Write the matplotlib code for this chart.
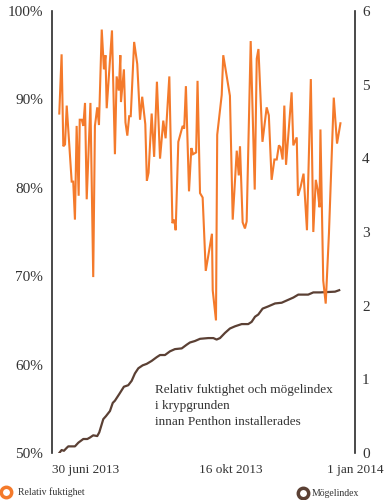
import matplotlib
matplotlib.use("Agg")
import matplotlib.pyplot as plt
from matplotlib.lines import Line2D

# days after 30 juni 2013, relative humidity (%)
rf_day = [0.0, 1.5, 2.6, 3.7, 4.8, 8.0, 9.0, 10.1, 11.2, 12.5, 13.2, 14.5, 15.5, 16.6,
          17.7, 20.1, 21.9, 23.0, 24.5, 25.6, 27.4, 28.8, 29.8, 30.6, 34.0, 35.9, 37.0,
          38.4, 39.4, 39.8, 41.7, 42.7, 43.9, 45.1, 46.1, 48.3, 50.3, 52.1, 53.5, 55.5,
          56.5, 57.6, 59.6, 61.2, 63.0, 65.0, 67.1, 68.6, 71.0, 73.0, 74.2, 75.1, 76.8,
          79.6, 80.6, 81.7, 83.7, 85.2, 86.3, 88.3, 89.2, 90.8, 92.5, 94.5, 98.5, 99.0,
          101.1, 101.9, 104.8, 105.8, 110.1, 111.9, 114.5, 115.8, 116.6, 118.3, 119.8,
          120.9, 123.5, 126.1, 127.4, 128.5, 131.1, 133.8, 135.2, 137.0, 138.8, 140.3,
          141.7, 142.7, 144.1, 145.2, 146.3, 149.9, 151.0, 153.2, 154.0, 155.7, 157.6,
          159.8, 162.3, 163.9, 165.5, 166.7, 167.9, 168.5, 170.3, 171.9, 174.0, 177.1,
          179.2, 181.4]
rf_value = [88.4, 95.1, 84.7, 84.9, 89.3, 80.7, 80.7, 76.4, 87.0, 79.1, 87.7, 87.7, 87.0, 89.6,
            78.7, 89.6, 69.9, 87.0, 89.1, 87.1, 97.9, 93.4, 95.0, 89.0, 97.8, 83.8, 92.6,
            91.0, 95.0, 89.7, 93.4, 87.4, 85.9, 88.1, 88.1, 96.5, 94.0, 87.7, 90.3, 87.2,
            80.8, 81.7, 88.4, 83.5, 92.0, 83.3, 87.6, 85.6, 92.6, 76.0, 76.4, 75.2, 85.2,
            87.0, 86.7, 91.5, 79.6, 84.5, 83.8, 84.0, 92.1, 79.4, 78.9, 70.6, 74.8, 68.4,
            65.0, 86.0, 90.5, 95.0, 90.4, 76.4, 84.2, 81.4, 84.7, 76.1, 75.4,
            76.2, 96.6, 79.8, 94.6, 95.7, 85.2, 89.1, 88.2, 80.9, 83.2, 83.2,
            84.8, 84.6, 83.2, 89.3, 82.6, 90.8, 84.8, 85.7, 79.1, 80.1, 81.6,
            75.2, 92.3, 75.0, 80.9, 79.8, 77.8, 86.6, 69.5, 66.9, 74.9, 90.2,
            85.0, 87.3]

# days after 30 juni 2013, mould index
mi_day = [0.0, 1.5, 3.0, 4.8, 5.8, 8.0, 10.1, 12.3, 15.5, 18.1, 19.8, 21.9, 24.5, 25.8,
          28.4, 30.1, 32.7, 34.5, 35.9, 38.7, 41.7, 44.5, 46.7, 48.8, 51.0, 53.8, 56.4,
          59.6, 62.8, 65.0, 68.2, 71.4, 74.6, 79.0, 82.2, 84.3, 87.5, 90.8, 96.1, 99.4,
          101.5, 103.7, 106.9, 110.1, 113.4, 117.7, 121.9, 124.1, 126.3, 128.4, 131.2,
          134.8, 139.2, 143.5, 146.7, 151.0, 154.2, 160.6, 163.9, 168.2, 177.9, 180.6]
mi_value = [0.00, 0.04, 0.03, 0.07, 0.09, 0.09, 0.09, 0.14, 0.19, 0.19, 0.21, 0.24, 0.23, 0.28,
            0.46, 0.50, 0.57, 0.68, 0.71, 0.80, 0.90, 0.92, 0.98, 1.08, 1.15, 1.19, 1.21,
            1.25, 1.30, 1.33, 1.33, 1.38, 1.41, 1.42, 1.47, 1.50, 1.52, 1.55, 1.56, 1.56,
            1.54, 1.56, 1.63, 1.69, 1.72, 1.75, 1.75, 1.78, 1.85, 1.88, 1.96,
            1.99, 2.03, 2.04, 2.07, 2.11, 2.15, 2.15, 2.18, 2.18, 2.19, 2.21]

date_labels = ["30 juni 2013", "16 okt 2013", "1 jan 2014"]
rf_ticks = [50, 60, 70, 80, 90, 100]
mi_ticks = [0, 1, 2, 3, 4, 5, 6]

ORANGE = "#f47a2b"
BROWN = "#5b4034"
TEXT = "#333333"
SPINE = "#2a2a2a"

plt.rcParams["font.family"] = ["Liberation Serif", "DejaVu Serif"]

fig = plt.figure(figsize=(3.86, 5.0), dpi=100)
ax = fig.add_axes([0.1347, 0.094, 0.785, 0.884])
ax2 = ax.twinx()
ax.set_zorder(ax2.get_zorder() + 1)
ax.patch.set_visible(False)

ax.plot(rf_day, rf_value, color=ORANGE, lw=1.5, solid_joinstyle="miter")
ax2.plot(mi_day, mi_value, color=BROWN, lw=1.6)

xmin, xmax = -4.7, 190.8
ax.set_xlim(xmin, xmax)
ax.set_ylim(50, 100)
ax2.set_ylim(0, 6)

for a in (ax, ax2):
    for side in ("top", "bottom", "left", "right"):
        a.spines[side].set_visible(False)
ax.spines["left"].set_visible(True)
ax.spines["left"].set_color(SPINE)
ax.spines["left"].set_linewidth(1.2)
ax2.spines["right"].set_visible(True)
ax2.spines["right"].set_color(SPINE)
ax2.spines["right"].set_linewidth(1.2)

ax.set_yticks(rf_ticks)
ax.set_yticklabels([f"{t}%" for t in rf_ticks])
ax.tick_params(axis="y", length=0, pad=6.5, labelsize=11, labelcolor=TEXT)
ax2.set_yticks(mi_ticks)
ax2.tick_params(axis="y", length=0, pad=5, labelsize=11, labelcolor=TEXT)

ax.set_xticks([xmin, 110.8, xmax])
ax.set_xticklabels(date_labels)
ax.tick_params(axis="x", length=0, pad=8, labelsize=9.5, labelcolor=TEXT)
labels = ax.get_xticklabels()
labels[0].set_ha("left")
labels[1].set_ha("center")
labels[2].set_ha("center")

ax.text(0.339, 0.155, "Relativ fuktighet och mögelindex\ni krypgrunden\ninnan Penthon installerades",
        transform=ax.transAxes, fontsize=9.5, color=TEXT, va="top", ha="left", linespacing=1.42)

# legend markers in the bottom corners
fig.add_artist(Line2D([0.0148], [0.016], marker="o", ms=7.5, mfc="white", mec=ORANGE, mew=2.5,
                      transform=fig.transFigure))
fig.text(0.047, 0.016, "Relativ fuktighet", fontsize=7, color=TEXT, va="center", ha="left")
fig.add_artist(Line2D([0.786], [0.014], marker="o", ms=7.5, mfc="white", mec=BROWN, mew=2.5,
                      transform=fig.transFigure))
fig.text(0.808, 0.014, "Mögelindex", fontsize=7, color=TEXT, va="center", ha="left")

fig.savefig("out.png", dpi=100)
